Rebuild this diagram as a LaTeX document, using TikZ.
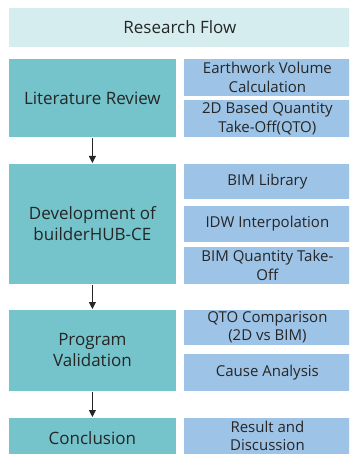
\documentclass[tikz,border=0pt]{standalone}
\usepackage{fontspec}
\setmainfont{Open Sans}
\usetikzlibrary{arrows.meta}
\definecolor{headfill}{HTML}{D6EDF0}
\definecolor{stagefill}{HTML}{75C3CB}
\definecolor{taskfill}{HTML}{9DC3E6}
\definecolor{inkgray}{HTML}{262626}
\tikzset{
  box/.style={rectangle, anchor=north west, inner sep=0pt, draw=white,
    line width=0.8pt, text=inkgray, align=center},
  headbox/.style={box, fill=headfill, font=\fontsize{17}{20}\selectfont},
  stagebox/.style={box, fill=stagefill, minimum width=168pt,
    font=\fontsize{17}{21}\selectfont},
  taskbox/.style={box, fill=taskfill, minimum width=168pt,
    font=\fontsize{15}{18.5}\selectfont},
  flow/.style={draw=inkgray, line width=0.9pt,
    -{Triangle[length=7pt,width=7pt]}}
}
\begin{document}
\begin{tikzpicture}[x=1pt, y=-1pt]
\useasboundingbox (0,0) rectangle (349,454);
\clip (0,0) rectangle (349,454);

% title bar
\node[headbox, minimum width=343pt, minimum height=40pt] (title) at (8,7) {Research Flow};

% stages (left column)
\node[stagebox, minimum height=79pt]  (lit)  at (8,58)  {Literature Review};
\node[stagebox, minimum height=121pt] (dev)  at (8,163) {Development of\\builderHUB-CE};
\node[stagebox, minimum height=82pt]  (val)  at (8,309) {Program\\Validation};
\node[stagebox, minimum height=41pt]  (conc) at (8,417) {Conclusion};

% tasks (right column)
\node[taskbox, minimum height=38pt] (earth) at (183,58)  {Earthwork Volume\\Calculation};
\node[taskbox, minimum height=38pt] (qto2d) at (183,99)  {2D Based Quantity\\Take-Off(QTO)};
\node[taskbox, minimum height=36pt] (lib)   at (183,163) {BIM Library};
\node[taskbox, minimum height=37pt] (idw)   at (183,205) {IDW Interpolation};
\node[taskbox, minimum height=38pt] (bimq)  at (183,246) {BIM Quantity Take-\\Off};
\node[taskbox, minimum height=36pt] (cmp)   at (183,309) {QTO Comparison\\(2D vs BIM)};
\node[taskbox, minimum height=38pt] (cause) at (183,353) {Cause Analysis};
\node[taskbox, minimum height=37pt] (res)   at (183,417) {Result and\\Discussion};

% flow arrows
\draw[flow] (lit.south)  -- (dev.north);
\draw[flow] (dev.south)  -- (val.north);
\draw[flow] (val.south)  -- (conc.north);
\end{tikzpicture}
\end{document}
